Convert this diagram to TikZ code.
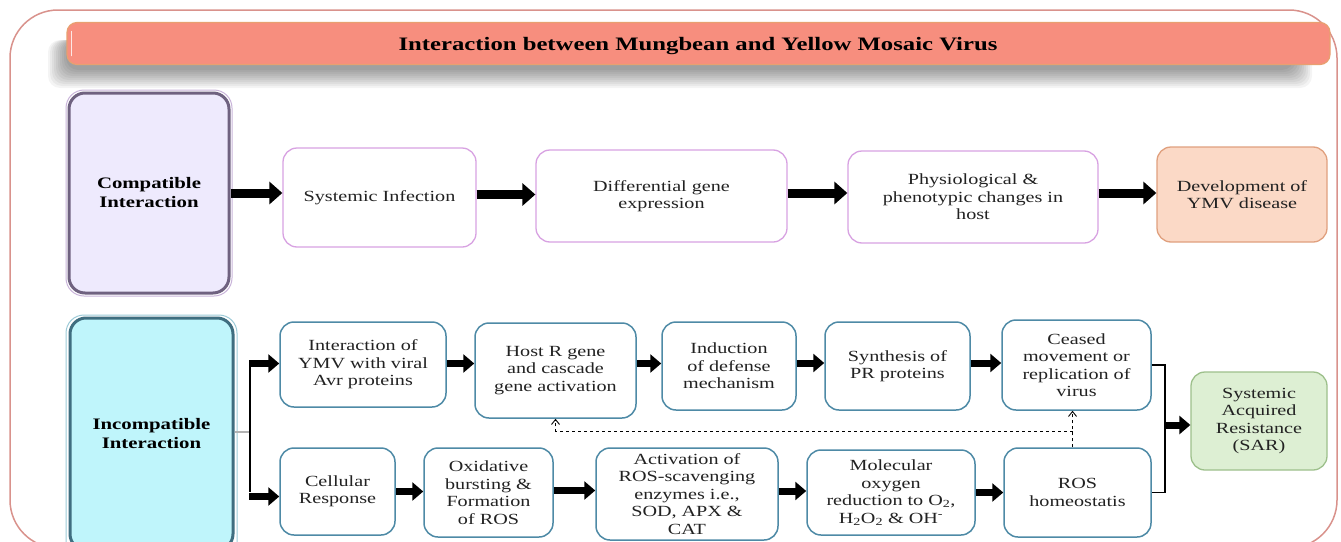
\documentclass[tikz,border=0pt]{standalone}
\usepackage{fontspec}
\setmainfont{Liberation Serif}[FakeStretch=1.3]
\usetikzlibrary{arrows.meta,calc}
\definecolor{outerb}{HTML}{D9928C}
\definecolor{titlef}{HTML}{F78E7E}
\definecolor{titleb}{HTML}{E8A070}
\definecolor{lavf}{HTML}{EEEAFD}
\definecolor{lavb}{HTML}{6F6280}
\definecolor{lavo}{HTML}{C9B4DA}
\definecolor{cyanf}{HTML}{BFF5FB}
\definecolor{cyanb}{HTML}{3F6E80}
\definecolor{cyano}{HTML}{9CCBD8}
\definecolor{violetb}{HTML}{D8A2E2}
\definecolor{devf}{HTML}{FBD9C6}
\definecolor{devb}{HTML}{E0A07E}
\definecolor{blueb}{HTML}{4E8AA6}
\definecolor{sarf}{HTML}{DDEFD3}
\definecolor{sarb}{HTML}{9DC08B}
\definecolor{txt}{HTML}{222222}
\tikzset{
  basebox/.style={rounded corners=14pt, align=center, inner sep=0pt, text=txt,
    font=\fontsize{15.5}{17.5}\selectfont},
  vbox/.style={basebox, draw=violetb, line width=1.3pt, fill=white},
  bbox/.style={basebox, draw=blueb, line width=1.5pt, fill=white},
  bigbox/.style={rounded corners=16pt, align=center, inner sep=0pt, text=black,
    font=\fontsize{16}{19}\selectfont\bfseries, line width=3pt},
  bigarrow/.style={line width=9pt, -{Triangle[length=13pt,width=22pt]}},
  smallarrow/.style={line width=7pt, -{Triangle[length=11pt,width=18pt]}},
  dasharrow/.style={dashed, line width=0.9pt, -{Straight Barb[length=5pt,width=8pt]}}
}
\begin{document}
\begin{tikzpicture}[x=1pt,y=-1pt]
\useasboundingbox (0,0) rectangle (1341,541);
\fill[white] (0,0) rectangle (1341,541);
% outer border
\draw[outerb, line width=1.5pt, rounded corners=48pt] (10,10) rectangle (1337,548);
% title shadow
\foreach \i in {0,...,9}{
  \fill[black, opacity=0.045, rounded corners=12pt] (48+\i*2,40) rectangle (1312-\i*2,88-\i*2);
}
\node[draw=titleb, line width=1.2pt, fill=titlef, rounded corners=10pt,
  minimum width=1263pt, minimum height=42pt, inner sep=0pt] (titlebar) at (698.5,43.5) {};
\node[font=\fontsize{19}{22}\selectfont\bfseries, text=black, inner sep=0pt] (title) at (698,46.5)
  {Interaction between Mungbean and Yellow Mosaic Virus};
\draw[white, line width=1.5pt, line cap=round, opacity=0.8] ($(titlebar.west)+(5,-12)$) -- ($(titlebar.west)+(5,12)$);
% compatible
\draw[lavo, line width=1pt, rounded corners=18pt] (66,90) rectangle (232,296);
\node[bigbox, draw=lavb, fill=lavf, minimum width=160pt, minimum height=200pt] (comp) at (149,193)
  {Compatible\\Interaction};
\node[vbox, minimum width=193pt, minimum height=99pt] (sysinf) at (379.5,197.5) {Systemic Infection};
\node[vbox, minimum width=251pt, minimum height=92pt] (diff) at (661.5,196) {Differential gene\\expression};
\node[vbox, minimum width=250pt, minimum height=92pt] (phys) at (973,197) {Physiological \&\\phenotypic changes in\\host};
\node[basebox, draw=devb, line width=1.3pt, fill=devf, minimum width=170pt, minimum height=95pt] (dev) at (1242,194.5) {Development of\\YMV disease};
\draw[bigarrow] (comp.east) -- (comp.east -| sysinf.west);
\draw[bigarrow] ($(sysinf.east)+(0,-3)$) -- ($(sysinf.east -| diff.west)+(0,-3)$);
\draw[bigarrow] ($(diff.east)+(0,-3)$) -- ($(diff.east -| phys.west)+(0,-3)$);
\draw[bigarrow] ($(phys.east)+(0,-4)$) -- ($(phys.east -| dev.west)+(0,-4)$);
% incompatible
\draw[cyano, line width=1pt, rounded corners=18pt] (66,315) rectangle (237,560);
\node[bigbox, draw=cyanb, fill=cyanf, minimum width=163pt, minimum height=232pt] (incomp) at (151.5,434)
  {Incompatible\\Interaction};
% top row
\node[bbox, minimum width=166pt, minimum height=85pt] (ia) at (363,364.5) {Interaction of\\YMV with viral\\Avr proteins};
\node[bbox, minimum width=161pt, minimum height=95pt] (hr) at (555.5,370.5) {Host R gene\\and cascade\\gene activation};
\node[bbox, minimum width=134pt, minimum height=88pt] (ind) at (729,366) {Induction\\of defense\\mechanism};
\node[bbox, minimum width=145pt, minimum height=88pt] (syn) at (897.5,366) {Synthesis of\\PR proteins};
\node[bbox, minimum width=149pt, minimum height=90pt] (ceased) at (1076.5,365) {Ceased\\movement or\\replication of\\virus};
% bottom row
\node[bbox, minimum width=115pt, minimum height=87pt] (cell) at (337.5,491.5) {Cellular\\Response};
\node[bbox, minimum width=129pt, minimum height=89pt] (oxi) at (488.5,492.5) {Oxidative\\bursting \&\\Formation\\of ROS};
\node[bbox, minimum width=182pt, minimum height=92pt] (act) at (687,494) {Activation of\\ROS-scavenging\\enzymes i.e.,\\SOD, APX \&\\CAT};
\node[bbox, minimum width=168pt, minimum height=85pt] (mol) at (891,492.5) {Molecular\\oxygen\\reduction to O\textsubscript{2},\\H\textsubscript{2}O\textsubscript{2} \& OH\textsuperscript{-}};
\node[bbox, minimum width=147pt, minimum height=89pt] (ros) at (1077.5,492.5) {ROS\\homeostatis};
% SAR
\node[basebox, draw=sarb, line width=1.3pt, fill=sarf, minimum width=136pt, minimum height=98pt] (sar) at (1259,421) {Systemic\\Acquired\\Resistance\\(SAR)};
% branch
\coordinate (br) at (250,432);
\draw[gray!60, line width=1.2pt] (incomp.east |- br) -- (br);
\draw[black, line width=2pt] (br |- ia.west) -- (br |- cell.west);
\draw[smallarrow] ($(br |- ia.west)+(-1,-1)$) -- ($(ia.west)+(0,-1)$);
\draw[smallarrow] ($(br |- cell.west)+(-1,5)$) -- ($(cell.west)+(0,5)$);
% top row arrows
\draw[smallarrow] ($(ia.east)+(0,-1)$) -- ($(ia.east -| hr.west)+(0,-1)$);
\draw[smallarrow] ($(hr.east)+(0,-7)$) -- ($(hr.east -| ind.west)+(0,-7)$);
\draw[smallarrow] ($(ind.east)+(0,-3)$) -- ($(ind.east -| syn.west)+(0,-3)$);
\draw[smallarrow] ($(syn.east)+(0,-3)$) -- ($(syn.east -| ceased.west)+(0,-3)$);
% bottom row arrows
\draw[smallarrow] (cell.east) -- (cell.east -| oxi.west);
\draw[smallarrow] ($(oxi.east)+(0,-2)$) -- ($(oxi.east -| act.west)+(0,-2)$);
\draw[smallarrow] ($(act.east)+(0,-3)$) -- ($(act.east -| mol.west)+(0,-3)$);
\draw[smallarrow] (mol.east) -- (mol.east -| ros.west);
% bracket to SAR
\coordinate (j) at (1165,425);
\draw[black, line width=1.2pt] (ceased.east) -- (ceased.east -| j) -- (ros.east -| j) -- (ros.east);
\draw[smallarrow] (j) -- (j -| sar.west);
% dashed feedback
\coordinate (dj) at ($(ros.north)+(-5,-16)$);
\draw[dasharrow] ($(ros.north)+(-5,0)$) -- ($(ceased.south)+(-4,0)$);
\draw[dasharrow] (dj) -| (hr.south);
\end{tikzpicture}
\end{document}
